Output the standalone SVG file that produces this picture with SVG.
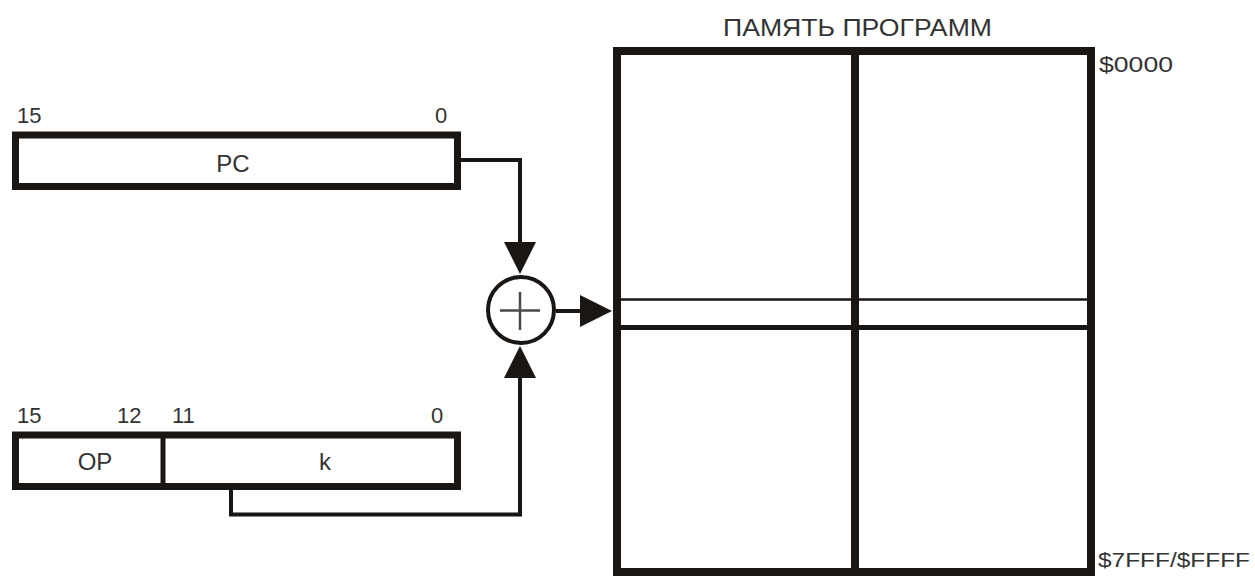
<svg xmlns="http://www.w3.org/2000/svg" width="1255" height="577" viewBox="0 0 1255 577">
  <defs>
    <style>
      .box { fill: #ffffff; stroke: #1a1614; stroke-width: 7; }
      .div { stroke: #1a1614; stroke-width: 5; fill: none; }
      .wire { fill: none; stroke: #1a1614; stroke-width: 4; }
      .mem { fill: none; stroke: #1a1614; stroke-width: 8; }
      .t { font-family: "Liberation Sans", "DejaVu Sans", sans-serif; fill: #333333; }
      .num { font-size: 22px; }
      .lbl { font-size: 24px; }
    </style>
    <marker id="arr" markerUnits="userSpaceOnUse" markerWidth="34" markerHeight="32" viewBox="0 0 34 32" refX="1" refY="16" orient="auto">
      <path d="M0,0 L32,16 L0,32 Z" fill="#1a1614"/>
    </marker>
  </defs>
  <rect width="1255" height="577" fill="#ffffff"/>

  <g id="pc-register">
    <rect class="box" x="15.5" y="135" width="442" height="51.5"/>
    <text class="t num" x="17" y="123">15</text>
    <text class="t num" x="441" y="123" text-anchor="middle">0</text>
    <text class="t lbl" x="233" y="172" text-anchor="middle">PC</text>
  </g>

  <g id="instruction-register">
    <rect class="box" x="15.5" y="435" width="442" height="51.5"/>
    <line class="div" x1="163" y1="435" x2="163" y2="486.5"/>
    <text class="t num" x="17" y="423">15</text>
    <text class="t num" x="117" y="423">12</text>
    <text class="t num" x="172" y="423">11</text>
    <text class="t num" x="437" y="423" text-anchor="middle">0</text>
    <text class="t lbl" x="95" y="470" text-anchor="middle">OP</text>
    <text class="t lbl" x="325" y="470" text-anchor="middle">k</text>
  </g>

  <g id="adder">
    <circle cx="521" cy="310" r="33" fill="#ffffff" stroke="#1a1614" stroke-width="4"/>
    <line x1="500" y1="310.5" x2="540" y2="310.5" stroke="#4a4a4a" stroke-width="2.5"/>
    <line x1="520" y1="292" x2="520" y2="330" stroke="#4a4a4a" stroke-width="2.5"/>
  </g>

  <g id="program-memory">
    <text class="t" x="723" y="36" font-size="23" textLength="269" lengthAdjust="spacingAndGlyphs">ПАМЯТЬ ПРОГРАММ</text>
    <rect class="mem" x="617" y="51" width="474" height="521"/>
    <line class="mem" x1="855" y1="51" x2="855" y2="572"/>
    <line x1="617" y1="299.5" x2="1091" y2="299.5" stroke="#1a1614" stroke-width="2.5"/>
    <line x1="617" y1="327.5" x2="1091" y2="327.5" stroke="#1a1614" stroke-width="5"/>
    <text class="t" x="1099" y="72" font-size="22" textLength="74" lengthAdjust="spacingAndGlyphs">$0000</text>
    <text class="t" x="1098" y="567" font-size="20" textLength="152" lengthAdjust="spacingAndGlyphs">$7FFF/$FFFF</text>
  </g>

  <g id="connectors">
    <path class="wire" d="M461,160 H520 V243" marker-end="url(#arr)"/>
    <path class="wire" d="M231,490 V514.5 H520 V377" marker-end="url(#arr)"/>
    <path class="wire" d="M556,311 H581" marker-end="url(#arr)"/>
  </g>
</svg>
